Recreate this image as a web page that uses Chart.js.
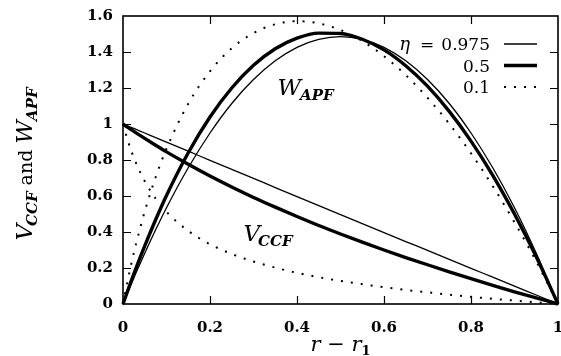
<!DOCTYPE html>
<html lang="en">
<head>
<meta charset="UTF-8">
<title>V_CCF and W_APF</title>
<style>
  html, body { margin: 0; padding: 0; background: #fff; }
</style>
</head>
<body>
<canvas id="chart" width="561" height="356"></canvas>
<script src="https://cdn.jsdelivr.net/npm/chart.js@4.4.0/dist/chart.umd.min.js"></script>
<script>
// r - r1 positions (shared by all curves)
const xs = [0, 0.01, 0.02, 0.03, 0.05, 0.075, 0.1, 0.15, 0.2, 0.25, 0.3, 0.35, 0.4, 0.45,
            0.5, 0.55, 0.6, 0.65, 0.7, 0.75, 0.8, 0.85, 0.9, 0.95, 1];

// W_APF for eta = 0.975, 0.5, 0.1
const wEta0975 = [0, 0.059, 0.116, 0.173, 0.282, 0.412, 0.535, 0.757, 0.950, 1.114, 1.247, 1.351, 1.426, 1.470,
                  1.485, 1.470, 1.426, 1.351, 1.247, 1.114, 0.950, 0.757, 0.535, 0.282, 0];
const wEta05   = [0, 0.068, 0.135, 0.200, 0.323, 0.468, 0.603, 0.840, 1.039, 1.200, 1.326, 1.418, 1.477, 1.505,
                  1.503, 1.471, 1.412, 1.324, 1.210, 1.070, 0.905, 0.715, 0.500, 0.262, 0];
const wEta01   = [0, 0.121, 0.233, 0.334, 0.514, 0.704, 0.863, 1.113, 1.293, 1.421, 1.505, 1.554, 1.571, 1.559,
                  1.522, 1.461, 1.377, 1.272, 1.146, 1.001, 0.837, 0.655, 0.454, 0.236, 0];

// V_CCF for eta = 0.975, 0.5, 0.1
const vEta0975 = [1, 0.990, 0.980, 0.970, 0.950, 0.924, 0.899, 0.849, 0.798, 0.748, 0.698, 0.647, 0.597, 0.547,
                  0.497, 0.447, 0.397, 0.347, 0.298, 0.248, 0.198, 0.149, 0.099, 0.050, 0];
const vEta05   = [1, 0.983, 0.967, 0.951, 0.920, 0.882, 0.845, 0.776, 0.711, 0.650, 0.592, 0.538, 0.486, 0.436,
                  0.389, 0.344, 0.300, 0.258, 0.218, 0.179, 0.141, 0.104, 0.068, 0.034, 0];
const vEta01   = [1, 0.916, 0.844, 0.783, 0.682, 0.586, 0.512, 0.406, 0.332, 0.278, 0.236, 0.202, 0.173, 0.149,
                  0.128, 0.110, 0.093, 0.078, 0.065, 0.052, 0.040, 0.029, 0.019, 0.009, 0];

const etaLabels = ['0.975', '0.5', '0.1'];

const SERIF = '"DejaVu Serif"';
const mathFont = 'italic 23px ' + SERIF;
const subFont = 'bold italic 15px ' + SERIF;

// line look per eta: thin, thick, dotted
const looks = [
  { width: 1.3, dash: [] },
  { width: 3.4, dash: [] },
  { width: 2, dash: [2, 8] }
];

function pts(ys) {
  return xs.map((x, i) => ({ x: x, y: ys[i] }));
}

function ds(label, ys, look) {
  return {
    label: label,
    data: pts(ys),
    borderColor: '#000',
    borderWidth: look.width,
    borderDash: look.dash,
    pointRadius: 0,
    fill: false,
    cubicInterpolationMode: 'monotone',
    clip: false
  };
}

// draw a list of text runs starting at x, baseline y
function runsWidth(ctx, runs) {
  let w = 0;
  runs.forEach(r => { ctx.font = r.f; w += ctx.measureText(r.t).width + (r.dx || 0); });
  return w;
}
function drawRuns(ctx, runs, x, y) {
  runs.forEach(r => {
    ctx.font = r.f;
    ctx.fillText(r.t, x, y + (r.dy || 0));
    x += ctx.measureText(r.t).width + (r.dx || 0);
  });
}

const wRuns = [{ t: 'W', f: mathFont, dx: -1 }, { t: 'APF', f: subFont, dy: 5 }];
const vRuns = [{ t: 'V', f: mathFont, dx: -2 }, { t: 'CCF', f: subFont, dy: 5 }];

const frame = {
  id: 'frame',
  afterDraw(chart) {
    const { ctx, chartArea: a, scales: { x, y } } = chart;
    ctx.save();
    ctx.strokeStyle = '#000';
    ctx.fillStyle = '#000';

    // inward ticks on all four sides
    ctx.lineWidth = 1.2;
    ctx.beginPath();
    x.ticks.forEach(t => {
      if (t.value <= 0 || t.value >= 1) return;
      const px = Math.round(x.getPixelForValue(t.value)) + 0.5;
      ctx.moveTo(px, a.bottom); ctx.lineTo(px, a.bottom - 8);
      ctx.moveTo(px, a.top); ctx.lineTo(px, a.top + 8);
    });
    y.ticks.forEach(t => {
      if (t.value <= 0 || t.value >= 1.6) return;
      const py = Math.round(y.getPixelForValue(t.value)) + 0.5;
      ctx.moveTo(a.left, py); ctx.lineTo(a.left + 8, py);
      ctx.moveTo(a.right, py); ctx.lineTo(a.right - 8, py);
    });
    ctx.stroke();

    ctx.lineWidth = 1.6;
    ctx.strokeRect(a.left, a.top, a.width, a.height);

    // curve labels
    ctx.textAlign = 'left';
    ctx.textBaseline = 'alphabetic';
    drawRuns(ctx, wRuns, x.getPixelForValue(0.355), y.getPixelForValue(1.16));
    drawRuns(ctx, vRuns, x.getPixelForValue(0.277), y.getPixelForValue(0.35));

    // key: text right aligned, line sample to its right
    const textRight = 490, lineL = 504, lineR = 537;
    etaLabels.forEach((lab, i) => {
      const ly = a.top + 28 + i * 21.5;
      const base = ly + 6;
      ctx.textAlign = 'right';
      ctx.font = '17px ' + SERIF;
      ctx.fillText(lab, textRight, base);
      if (i === 0) {
        const w = ctx.measureText(lab).width;
        ctx.fillText('=', textRight - w - 7, base);
        const we = ctx.measureText('=').width;
        ctx.font = 'italic 18px ' + SERIF;
        ctx.fillText('η', textRight - w - we - 17, base);
      }
      ctx.lineWidth = looks[i].width;
      ctx.setLineDash(looks[i].dash);
      ctx.beginPath();
      ctx.moveTo(lineL, ly);
      ctx.lineTo(lineR, ly);
      ctx.stroke();
      ctx.setLineDash([]);
    });

    // axis titles
    ctx.textAlign = 'left';
    const xt = [
      { t: 'r', f: 'italic 21px ' + SERIF },
      { t: ' − ', f: '21px ' + SERIF },
      { t: 'r', f: 'italic 21px ' + SERIF },
      { t: '1', f: 'bold 13px ' + SERIF, dy: 4 }
    ];
    const xw = runsWidth(ctx, xt);
    drawRuns(ctx, xt, (a.left + a.right) / 2 - xw / 2, 351);

    const yt = [
      { t: 'V', f: mathFont, dx: -2 },
      { t: 'CCF', f: subFont, dy: 5 },
      { t: ' and ', f: '19px ' + SERIF },
      { t: 'W', f: mathFont, dx: -1 },
      { t: 'APF', f: subFont, dy: 5 }
    ];
    const yw = runsWidth(ctx, yt);
    ctx.translate(32, 164);
    ctx.rotate(-Math.PI / 2);
    drawRuns(ctx, yt, -yw / 2, 0);
    ctx.restore();
  }
};

const tickFont = { family: SERIF, size: 15, weight: 'bold' };
const fmt = v => String(Math.round(v * 10) / 10);

new Chart(document.getElementById('chart'), {
  type: 'line',
  data: {
    datasets: [
      ds('W eta=0.975', wEta0975, looks[0]),
      ds('W eta=0.5', wEta05, looks[1]),
      ds('W eta=0.1', wEta01, looks[2]),
      ds('V eta=0.975', vEta0975, looks[0]),
      ds('V eta=0.5', vEta05, looks[1]),
      ds('V eta=0.1', vEta01, looks[2])
    ]
  },
  options: {
    responsive: false,
    animation: false,
    devicePixelRatio: 1,
    layout: { padding: { top: 16, right: 3, left: 0, bottom: 0 } },
    plugins: { legend: { display: false }, tooltip: { enabled: false } },
    scales: {
      x: {
        type: 'linear', min: 0, max: 1,
        grid: { display: false, drawTicks: false },
        border: { display: false },
        ticks: { stepSize: 0.2, color: '#000', font: tickFont, padding: 15, callback: fmt },
        afterFit(s) { s.height = 52; s.paddingLeft = 0; s.paddingRight = 0; }
      },
      y: {
        type: 'linear', min: 0, max: 1.6,
        grid: { display: false, drawTicks: false },
        border: { display: false },
        ticks: { stepSize: 0.2, color: '#000', font: tickFont, padding: 10, callback: fmt },
        afterFit(s) { s.width = 123; s.paddingTop = 0; s.paddingBottom = 0; }
      }
    }
  },
  plugins: [frame]
});
</script>
</body>
</html>
